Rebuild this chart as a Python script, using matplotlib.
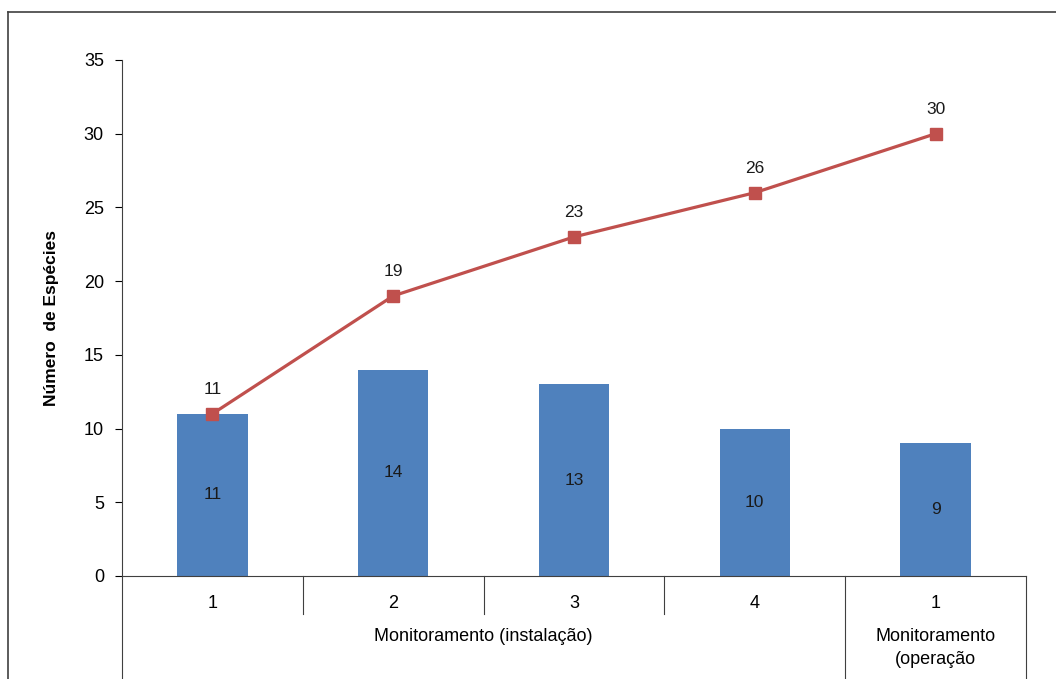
import matplotlib.pyplot as plt
from matplotlib.lines import Line2D
import numpy as np

plt.rcParams['font.family'] = ['Liberation Sans', 'DejaVu Sans']

campanhas = ['1', '2', '3', '4', '1']
grupos = ['Monitoramento (instalação)', 'Monitoramento\n(operação']
grupo_tamanho = [4, 1]
especies = [11, 14, 13, 10, 9]
acumulado = [11, 19, 23, 26, 30]

W, H = 1056, 679
fig = plt.figure(figsize=(W / 100, H / 100), dpi=100)
ax = fig.add_axes([122 / W, 103 / H, 904 / W, 516 / H])

x = np.arange(len(campanhas))
ax.bar(x, especies, width=0.39, color='#4F81BD', zorder=2)
ax.plot(x, acumulado, color='#C0504D', lw=2.3, marker='s', markersize=8.5, zorder=3)

for xi, v in zip(x, especies):
    ax.text(xi, v / 2, str(v), ha='center', va='center', fontsize=12.5, color='#1a1a1a', zorder=4)
for xi, v in zip(x, acumulado):
    ax.annotate(str(v), (xi, v), xytext=(0, 12), textcoords='offset points',
                ha='center', va='bottom', fontsize=12.5, color='#1a1a1a')

ax.set_xlim(-0.5, len(campanhas) - 0.5)
ax.set_ylim(0, 35)
ax.set_yticks(range(0, 36, 5))
ax.tick_params(axis='y', labelsize=13, length=5, direction='out', pad=8)
ax.set_xticks([])
for s in ['top', 'right']:
    ax.spines[s].set_visible(False)
ax.spines['left'].set_color('#404040')
ax.spines['bottom'].set_color('#404040')
ax.set_ylabel('Número  de Espécies', fontsize=12.5, fontweight='bold', labelpad=18)

# category axis with two levels
trans = ax.get_xaxis_transform()
px = 1 / 516
for xi, lab in zip(x, campanhas):
    ax.text(xi, -28 * px, lab, transform=trans, ha='center', va='center', fontsize=13)
start = 0
edges = [-0.5]
for g, n in zip(grupos, grupo_tamanho):
    centro = start + (n - 1) / 2
    ax.text(centro, -52 * px, g, transform=trans, ha='center', va='top', fontsize=13,
            linespacing=1.45)
    start += n
    edges.append(start - 0.5)
for i in range(1, len(campanhas)):
    b = i - 0.5
    if b in edges:
        continue
    ax.add_line(Line2D([b, b], [0, -38 * px], transform=trans, color='#404040', lw=0.8, clip_on=False))
for b in edges:
    ax.add_line(Line2D([b, b], [0, -110 * px], transform=trans, color='#404040', lw=0.8, clip_on=False))

# frame of the chart area
fig.add_artist(Line2D([8 / W, 8 / W], [0, 1 - 12 / H], transform=fig.transFigure, color='#404040', lw=1.2))
fig.add_artist(Line2D([8 / W, 1], [1 - 12 / H, 1 - 12 / H], transform=fig.transFigure, color='#404040', lw=1.2))

fig.savefig('out.png', dpi=100)
